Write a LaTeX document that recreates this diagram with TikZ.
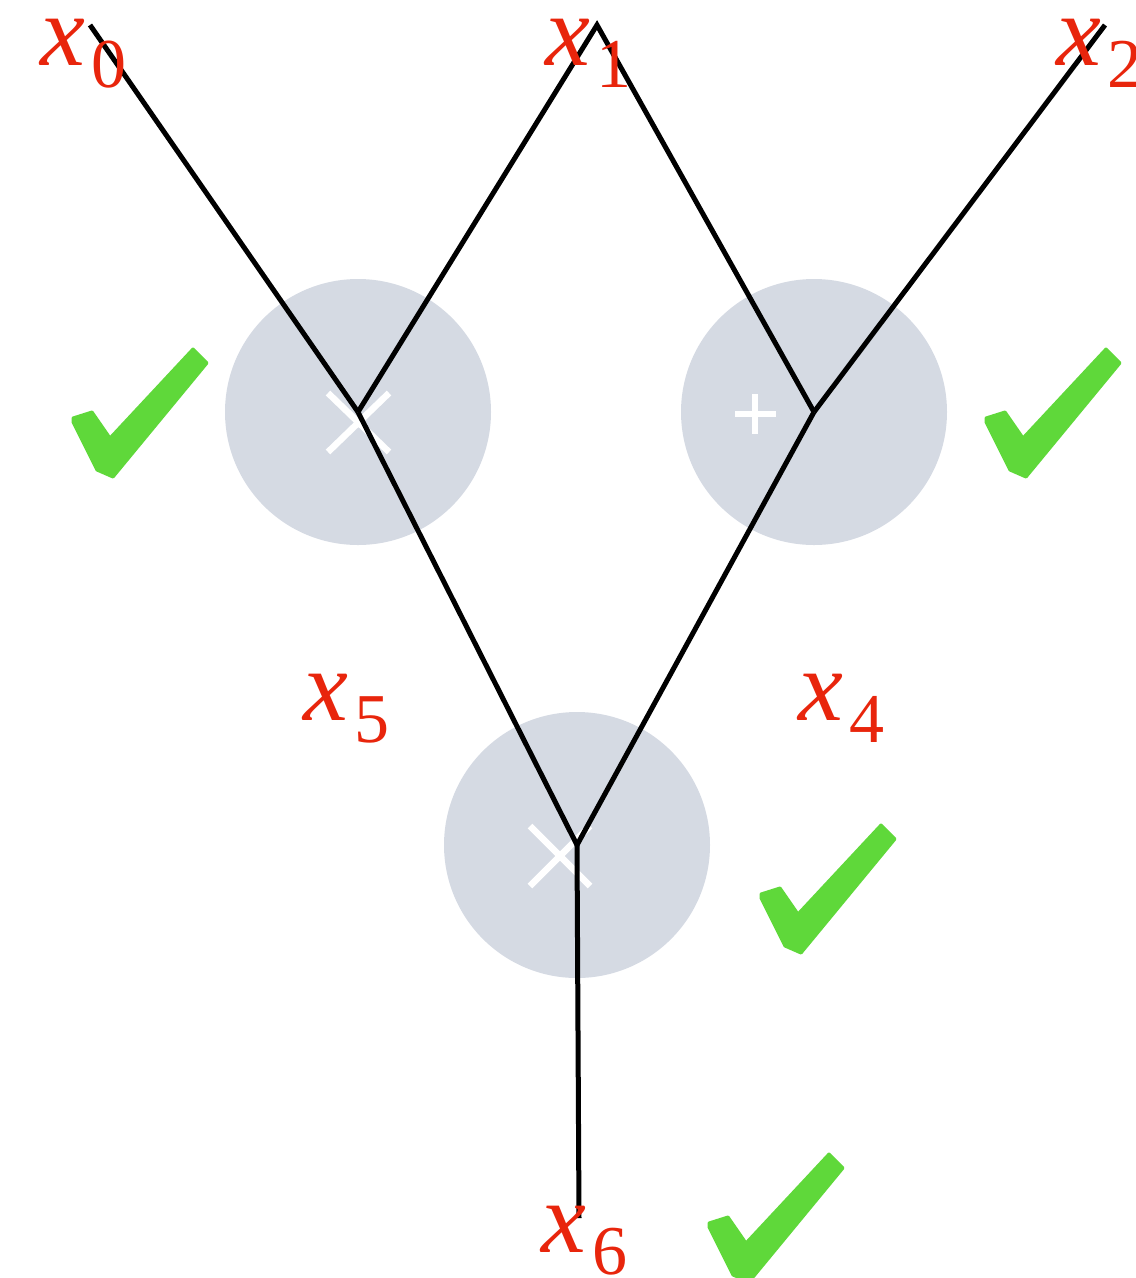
\documentclass[tikz,border=0pt]{standalone}
\usepackage{xcolor}
\usepackage{fontspec}
\newfontfamily\labfont{Liberation Serif}
\definecolor{nodegray}{HTML}{D5DAE3}
\definecolor{labred}{HTML}{E8250C}
\definecolor{checkgreen}{HTML}{5FD83A}
\newcommand\varlabel[1]{{\labfont\fontsize{101}{101}\selectfont\itshape x}\kern6pt\raisebox{-22pt}{\labfont\fontsize{70}{70}\selectfont #1}}
\begin{document}
\begin{tikzpicture}[x=1pt,y=-1pt,
  wire/.style={line width=5pt,black},
  opcircle/.style={circle,fill=nodegray,minimum size=266pt,inner sep=0pt},
  opsym/.style={white,line width=6.5pt},
  lab/.style={text=labred,inner sep=0pt,anchor=base west},
  checkmark/.pic={\filldraw[checkgreen,line width=3pt,line join=round] (1,72) -- (25,120) -- (41,127) -- (135,13) -- (121,-1) -- (38,88) -- (20,62) -- (1,68) -- cycle;}]
\useasboundingbox (0,0) rectangle (1136,1278);
% operation circles
\node[opcircle] (n5) at (358,412) {};
\node[opcircle] (n4) at (814,412) {};
\node[opcircle] (n6) at (577,845) {};
% operation symbols
\draw[opsym] (328,393) -- (389,452) (328,452) -- (389,393);
\draw[opsym] (530,826) -- (590,886) (530,886) -- (590,826);
\draw[opsym] (735,414) -- (776,414) (755,394) -- (755,434);
% end points
\coordinate (x0top) at (90,25);
\coordinate (x1top) at (597,25);
\coordinate (x2top) at (1105,25);
\coordinate (x6end) at (579,1218);
% wires
\draw[wire] (x0top) -- (n5.center);
\draw[wire] (n5.center) -- (x1top) -- (n4.center);
\draw[wire] (x2top) -- (n4.center);
\draw[wire] (n5.center) -- (n6.center) -- (n4.center);
\draw[wire] (n6.center) -- (x6end);
% labels
\node[lab] (l0) at (40,65) {\varlabel{0}};
\node[lab] (l1) at (545,65) {\varlabel{1}};
\node[lab] (l2) at (1056,65) {\varlabel{2}};
\node[lab] (l5) at (303,720) {\varlabel{5}};
\node[lab] (l4) at (798,720) {\varlabel{4}};
\node[lab] (l6) at (541,1252) {\varlabel{6}};
% check marks
\pic at (72,350) {checkmark};
\pic at (985,350) {checkmark};
\pic at (760,826) {checkmark};
\pic at (708,1155) {checkmark};
\end{tikzpicture}
\end{document}
